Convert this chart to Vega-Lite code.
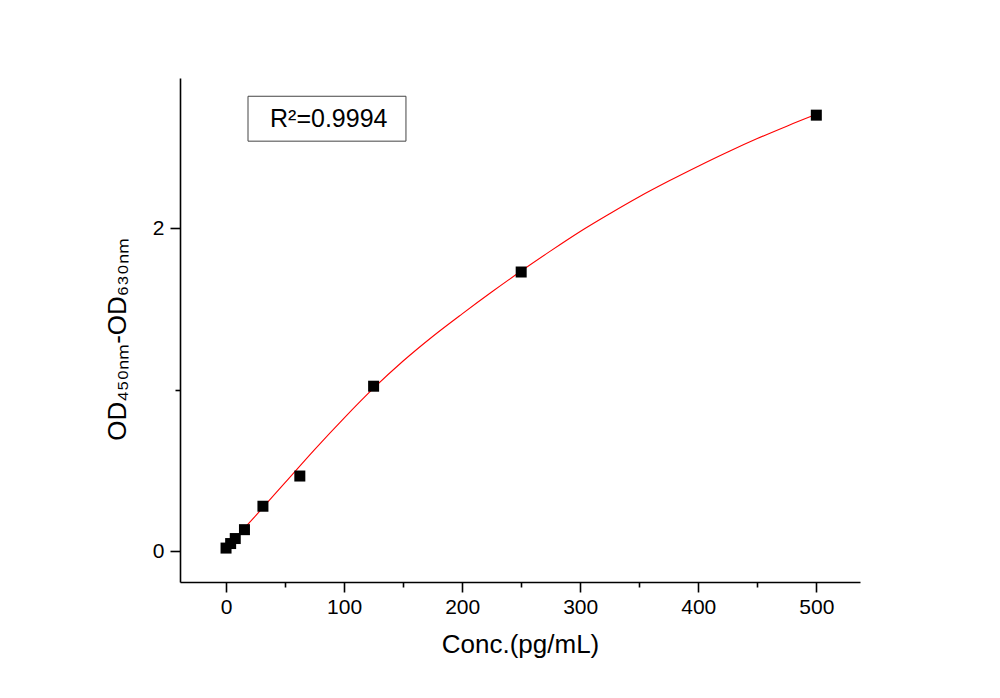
{
  "$schema": "https://vega.github.io/schema/vega-lite/v6.json",
  "width": 680,
  "height": 504,
  "autosize": {"type": "none"},
  "padding": {"left": 180, "top": 78, "right": 140, "bottom": 116},
  "background": "white",
  "config": {
    "view": {"stroke": null},
    "font": "Liberation Sans",
    "axis": {
      "domainColor": "black",
      "domainWidth": 1.6,
      "tickColor": "black",
      "tickWidth": 1.6,
      "grid": false,
      "labelFont": "Liberation Sans",
      "labelFontSize": 21,
      "labelColor": "black",
      "titleFont": "Liberation Sans",
      "titleFontSize": 26,
      "titleFontWeight": "normal",
      "titleColor": "black"
    }
  },
  "datasets": {
    "points": [
      {"conc": 0, "od": 0.02},
      {"conc": 3.9, "od": 0.048},
      {"conc": 7.8, "od": 0.079},
      {"conc": 15.6, "od": 0.134},
      {"conc": 31.25, "od": 0.279},
      {"conc": 62.5, "od": 0.466},
      {"conc": 125, "od": 1.022},
      {"conc": 250, "od": 1.729},
      {"conc": 500, "od": 2.70}
    ],
    "fit": [
      {"conc": 0, "od": 0.02},
      {"conc": 25, "od": 0.22},
      {"conc": 50, "od": 0.425},
      {"conc": 75, "od": 0.63},
      {"conc": 100, "od": 0.825},
      {"conc": 125, "od": 1.01},
      {"conc": 150, "od": 1.178},
      {"conc": 175, "od": 1.33},
      {"conc": 200, "od": 1.47},
      {"conc": 225, "od": 1.605},
      {"conc": 250, "od": 1.735},
      {"conc": 275, "od": 1.86},
      {"conc": 300, "od": 1.98},
      {"conc": 325, "od": 2.09},
      {"conc": 350, "od": 2.195},
      {"conc": 375, "od": 2.292},
      {"conc": 400, "od": 2.384},
      {"conc": 425, "od": 2.472},
      {"conc": 450, "od": 2.555},
      {"conc": 475, "od": 2.632},
      {"conc": 500, "od": 2.705}
    ]
  },
  "layer": [
    {
      "data": {"name": "fit"},
      "mark": {"type": "line", "color": "#ff0000", "strokeWidth": 1.1, "interpolate": "monotone"},
      "encoding": {
        "x": {
          "field": "conc", "type": "quantitative",
          "scale": {"domain": [-39, 537], "nice": false, "zero": false},
          "axis": {
            "title": "Conc.(pg/mL)",
            "values": [0, 50, 100, 150, 200, 250, 300, 350, 400, 450, 500],
            "labelExpr": "datum.value % 100 === 0 ? datum.label : ''",
            "tickSize": {"condition": {"test": "datum.value % 100 !== 0", "value": 5}, "value": 10},
            "labelPadding": 4,
            "titlePadding": 14,
            "labelFlush": false
          }
        },
        "y": {
          "field": "od", "type": "quantitative",
          "scale": {"domain": [-0.19, 2.93], "nice": false, "zero": false},
          "axis": {
            "title": "OD₄₅₀ₙₘ-OD₆₃₀ₙₘ",
            "format": "d",
            "values": [0, 1, 2],
            "labelExpr": "datum.value === 1 ? '' : datum.label",
            "tickSize": {"condition": {"test": "datum.value === 1", "value": 5}, "value": 10},
            "labelPadding": 6,
            "titlePadding": 22,
            "titleY": 261,
            "labelFlush": false
          }
        }
      }
    },
    {
      "data": {"name": "points"},
      "mark": {"type": "point", "shape": "square", "filled": true, "color": "black", "opacity": 1, "size": 121},
      "encoding": {
        "x": {"field": "conc", "type": "quantitative"},
        "y": {"field": "od", "type": "quantitative"}
      }
    },
    {
      "data": {"values": [{}]},
      "mark": {"type": "rect", "fill": "white", "stroke": "#444444", "strokeWidth": 1},
      "encoding": {
        "x": {"datum": 18.6, "type": "quantitative"},
        "x2": {"datum": 152.4},
        "y": {"datum": 2.817, "type": "quantitative"},
        "y2": {"datum": 2.539}
      }
    },
    {
      "data": {"values": [{}]},
      "mark": {"type": "text", "text": "R²=0.9994", "fontSize": 25, "font": "Liberation Sans", "color": "black", "align": "center", "baseline": "middle"},
      "encoding": {
        "x": {"datum": 87, "type": "quantitative"},
        "y": {"datum": 2.678, "type": "quantitative"}
      }
    }
  ]
}
